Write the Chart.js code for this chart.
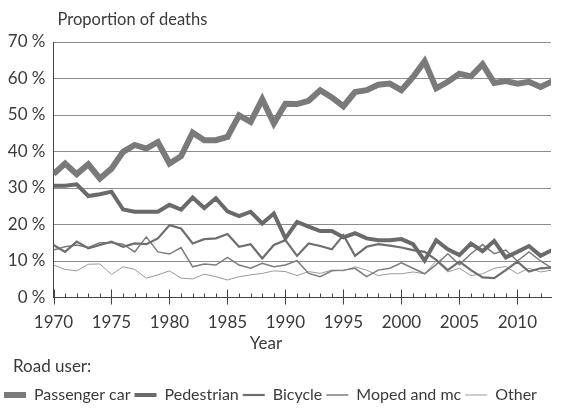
<!DOCTYPE html>
<html>
<head>
<meta charset="utf-8">
<script src="https://cdn.jsdelivr.net/npm/chart.js@4/dist/chart.umd.min.js"></script>
<style>
  html, body { margin: 0; padding: 0; background: #fff; overflow: hidden; }
  #wrap { position: relative; width: 566px; height: 408px; }
</style>
</head>
<body>
<div id="wrap"><canvas id="c" width="566" height="408"></canvas></div>
<script>
// ---- data ----
const years = [1970,1971,1972,1973,1974,1975,1976,1977,1978,1979,1980,1981,1982,1983,1984,1985,1986,1987,1988,1989,1990,1991,1992,1993,1994,1995,1996,1997,1998,1999,2000,2001,2002,2003,2004,2005,2006,2007,2008,2009,2010,2011,2012,2013];
const passengerCar = [33.8,36.7,33.8,36.5,32.6,35.3,39.9,41.8,40.8,42.6,36.7,38.7,45.2,43.1,43.1,44.0,49.9,48.1,54.3,47.7,53.1,53.0,53.9,56.8,54.8,52.4,56.3,56.8,58.3,58.6,56.8,60.4,64.7,57.3,59.1,61.3,60.6,63.9,58.8,59.3,58.6,59.1,57.7,59.2];
const pedestrian   = [30.6,30.6,31.0,27.8,28.3,29.0,24.1,23.5,23.5,23.5,25.4,24.1,27.4,24.5,27.2,23.6,22.3,23.5,20.3,23.0,16.2,20.7,19.4,18.2,18.2,16.5,17.6,16.2,15.7,15.7,16.0,14.6,10.1,15.7,13.2,11.6,14.8,12.7,15.5,11.0,12.5,14.1,11.4,13.0];
const bicycle      = [14.4,12.5,15.3,13.5,14.4,15.3,13.9,14.8,14.6,16.2,19.8,18.9,14.8,16.0,16.2,17.4,13.9,14.6,10.7,14.4,15.7,11.4,14.8,14.1,13.2,17.1,11.4,13.9,14.6,14.2,13.7,13.0,12.5,10.3,7.5,9.8,7.5,5.5,5.3,7.5,9.8,7.1,8.0,8.2];
const mopedMc      = [13.0,13.9,14.4,13.7,15.0,15.0,14.6,12.5,16.6,12.5,11.9,13.7,8.4,9.2,8.9,11.0,8.9,8.0,9.4,8.4,8.9,10.1,6.6,5.7,7.3,7.5,8.0,5.7,7.5,8.0,9.5,8.0,6.5,9.0,12.0,9.0,12.0,14.5,12.0,13.0,10.0,12.5,10.0,8.0];
const other        = [8.9,7.7,7.3,9.1,9.2,6.3,8.4,7.7,5.3,6.2,7.3,5.3,5.1,6.4,5.7,4.8,5.7,6.2,6.6,7.3,7.1,6.0,7.1,6.6,7.5,7.3,8.4,7.5,6.0,6.5,6.5,7.0,6.5,10.0,7.0,8.0,6.0,6.5,8.0,8.5,6.5,8.0,7.0,7.5];
const seriesNames = ['Passenger car','Pedestrian','Bicycle','Moped and mc','Other'];
const yTicks = [0,10,20,30,40,50,60,70];
const xLabelYears = [1970,1975,1980,1985,1990,1995,2000,2005,2010];

const FONT = 'Lato';
const TXT = '#3a3a3a';

function pts(arr){ return arr.map((v,i)=>({x: years[i], y: v})); }

const styles = [
  {c:'#7a7a7a', w:6},
  {c:'#6a6a6a', w:4},
  {c:'#6e6e6e', w:2.2},
  {c:'#7c7c7c', w:1.5},
  {c:'#9a9a9a', w:1}
];
const values = [passengerCar, pedestrian, bicycle, mopedMc, other];

const datasets = values.map((arr,i)=>({
  label: seriesNames[i],
  data: pts(arr),
  borderColor: styles[i].c,
  backgroundColor: styles[i].c,
  borderWidth: styles[i].w,
  pointRadius: 0,
  tension: 0,
  fill: false,
  borderJoinStyle: 'miter'
}));

const PAD_BOTTOM = -5;

const extras = {
  id: 'extras',
  afterDraw(chart){
    const ctx = chart.ctx, xs = chart.scales.x, ca = chart.chartArea;
    ctx.save();
    // x tick marks: long for every 5 years, short for each year
    ctx.strokeStyle = '#444';
    ctx.lineWidth = 1;
    for (let yr = years[0]; yr <= years[years.length-1]; yr++){
      const px = Math.round(xs.getPixelForValue(yr)) + 0.5;
      if (px > ca.right + 1) continue;
      ctx.beginPath();
      if (yr % 5 === 0){ ctx.moveTo(px, ca.bottom - 8); ctx.lineTo(px, ca.bottom + 7); }
      else { ctx.moveTo(px, ca.bottom - 4); ctx.lineTo(px, ca.bottom); }
      ctx.stroke();
    }
    ctx.fillStyle = TXT;
    ctx.font = '16.5px ' + FONT;
    ctx.textBaseline = 'middle';
    ctx.textAlign = 'left';
    ctx.fillText('Proportion of deaths', ca.left + 4, 20);
    ctx.font = '17px ' + FONT;
    ctx.textAlign = 'center';
    ctx.fillText('Year', 266, 344);
    ctx.textAlign = 'left';
    ctx.fillText('Road user:', 13, 367);
    ctx.restore();
  }
};

new Chart(document.getElementById('c'), {
  type: 'line',
  data: { datasets },
  options: {
    responsive: false,
    animation: false,
    devicePixelRatio: 1,
    layout: { padding: { top: 42, left: 0, right: 0, bottom: PAD_BOTTOM } },
    plugins: {
      legend: {
        position: 'bottom',
        align: 'start',
        labels: {
          usePointStyle: true,
          pointStyle: 'line',
          pointStyleWidth: 22,
          padding: 4,
          color: TXT,
          font: { family: FONT, size: 16 }
        }
      },
      tooltip: { enabled: false }
    },
    scales: {
      x: {
        type: 'linear',
        min: 1970,
        max: 2012.9,
        afterFit(scale){ scale.height = 408 - PAD_BOTTOM - 297.5 - scale.chart.legend.height; },
        ticks: {
          stepSize: 1,
          autoSkip: false,
          maxRotation: 0,
          padding: 15,
          color: TXT,
          font: { family: FONT, size: 17 },
          callback: (v) => xLabelYears.includes(v) ? String(v) : ''
        },
        grid: { display: false, drawTicks: false },
        border: { display: true, color: '#444', width: 1 }
      },
      y: {
        min: yTicks[0],
        max: yTicks[yTicks.length-1],
        afterFit(scale){ scale.width = 53.5; },
        ticks: {
          stepSize: 10,
          padding: 8,
          color: TXT,
          font: { family: FONT, size: 17 },
          callback: (v) => yTicks.includes(v) ? v + ' %' : ''
        },
        grid: { color: '#8c8c8c', lineWidth: 1, drawTicks: false },
        border: { display: true, color: '#444', width: 1 }
      }
    }
  },
  plugins: [extras]
});
</script>
</body>
</html>
